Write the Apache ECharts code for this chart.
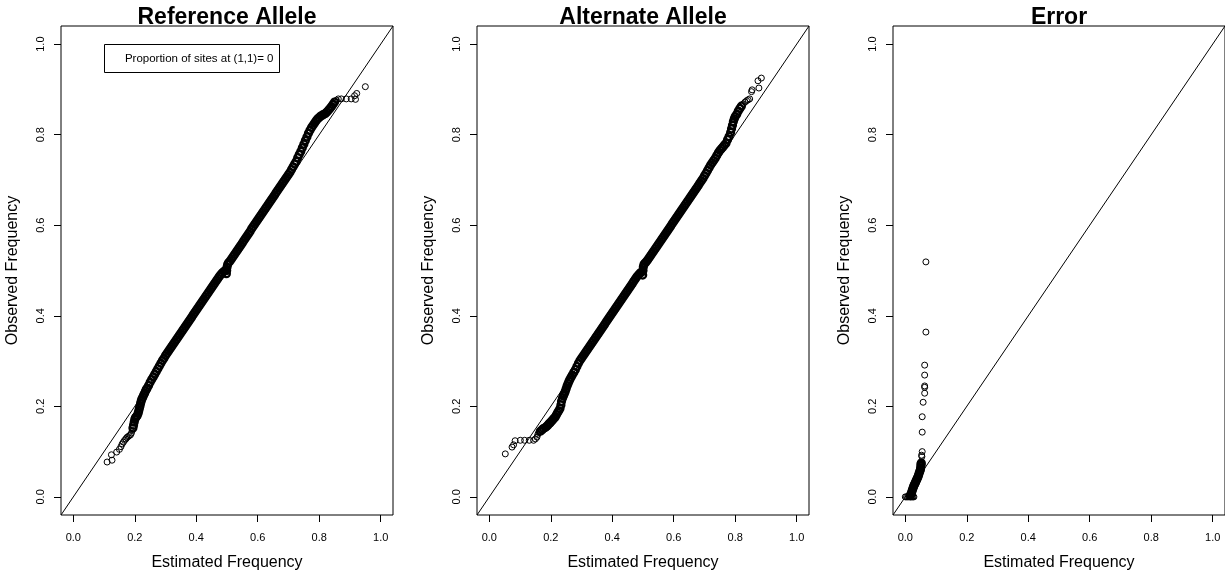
<!DOCTYPE html>
<html>
<head>
<meta charset="utf-8">
<script src="https://cdn.jsdelivr.net/npm/echarts@6/dist/echarts.min.js"></script>
<style>
html,body{margin:0;padding:0;background:#fff;}
#chart{width:1225px;height:578px;}
</style>
</head>
<body>
<div id="chart"></div>
<script>
// ---- data ----
const titles = ['Reference Allele', 'Alternate Allele', 'Error'];
const xTitle = 'Estimated Frequency';
const yTitle = 'Observed Frequency';
const legendText = 'Proportion of sites at (1,1)= 0';
const tickValues = [0, 0.2, 0.4, 0.6, 0.8, 1.0];
const axisRange = [-0.04, 1.04];
const identityLine = [[-0.04, -0.04], [1.04, 1.04]];

// Reference Allele: isolated points in the tails
const refSparse = [
[0.110,0.077],[0.126,0.081],[0.124,0.093],[0.141,0.099],[0.150,0.105],[0.155,0.111],[0.159,0.117],[0.163,0.121],
[0.167,0.125],[0.171,0.128],[0.174,0.131],[0.178,0.133],[0.182,0.135],[0.186,0.137],[0.189,0.141],[0.192,0.147],
[0.856,0.876],[0.862,0.879],[0.872,0.879],[0.888,0.879],[0.904,0.879],[0.918,0.878],[0.915,0.886],[0.922,0.891],
[0.950,0.906]
];
// Reference Allele: heavily overplotted band
const refBand = [
[0.194,0.152],[0.196,0.158],[0.198,0.165],[0.200,0.171],[0.202,0.175],[0.205,0.177],[0.208,0.180],[0.211,0.185],
[0.213,0.190],[0.215,0.196],[0.217,0.201],[0.219,0.207],[0.221,0.212],[0.223,0.216],[0.226,0.220],[0.229,0.225],
[0.232,0.229],[0.235,0.234],[0.238,0.238],
[0.240,0.240],[0.245,0.246],[0.250,0.253],[0.255,0.259],[0.260,0.265],[0.265,0.271],[0.270,0.277],[0.275,0.283],
[0.280,0.289],[0.285,0.295],[0.290,0.301],[0.295,0.306],[0.300,0.312],[0.305,0.317],[0.310,0.322],[0.315,0.327],
[0.320,0.332],[0.325,0.337],[0.330,0.342],[0.335,0.347],[0.340,0.352],[0.345,0.357],[0.350,0.362],[0.355,0.367],
[0.360,0.372],[0.365,0.377],[0.370,0.382],[0.375,0.387],[0.380,0.392],[0.385,0.397],[0.390,0.402],[0.395,0.407],
[0.400,0.412],[0.405,0.417],[0.410,0.422],[0.415,0.427],[0.420,0.432],[0.425,0.437],[0.430,0.442],[0.435,0.447],
[0.440,0.452],[0.445,0.457],[0.450,0.462],[0.455,0.467],[0.460,0.472],[0.465,0.477],[0.470,0.482],[0.475,0.487],
[0.480,0.491],[0.485,0.495],[0.490,0.498],[0.495,0.500],[0.498,0.493],[0.499,0.500],[0.500,0.507],[0.502,0.513],
[0.505,0.517],[0.510,0.521],[0.515,0.526],[0.520,0.531],[0.525,0.536],[0.530,0.541],[0.535,0.546],[0.540,0.551],
[0.545,0.556],[0.550,0.561],[0.555,0.566],[0.560,0.571],[0.565,0.576],[0.570,0.581],[0.575,0.586],[0.580,0.592],
[0.585,0.597],[0.590,0.602],[0.595,0.607],[0.600,0.612],[0.605,0.617],[0.610,0.622],[0.615,0.627],[0.620,0.632],
[0.625,0.637],[0.630,0.642],[0.635,0.647],[0.640,0.652],[0.645,0.657],[0.650,0.662],[0.655,0.667],[0.660,0.672],
[0.665,0.677],[0.670,0.682],[0.675,0.687],[0.680,0.692],[0.685,0.697],[0.690,0.702],[0.695,0.707],[0.700,0.712],
[0.705,0.717],[0.710,0.723],[0.715,0.729],[0.720,0.735],[0.725,0.741],[0.730,0.749],[0.735,0.756],[0.740,0.763],
[0.745,0.771],[0.750,0.779],[0.755,0.787],[0.760,0.795],[0.765,0.803],[0.770,0.810],[0.775,0.816],[0.780,0.821],
[0.785,0.826],[0.790,0.831],[0.795,0.835],[0.800,0.838],[0.805,0.841],[0.810,0.843],[0.815,0.845],[0.820,0.847],
[0.825,0.850],[0.830,0.854],[0.835,0.858],[0.840,0.862],[0.845,0.867],[0.850,0.872]
];

// Alternate Allele: isolated points in the tails
const altSparse = [
[0.052,0.095],[0.074,0.110],[0.079,0.115],[0.084,0.124],[0.101,0.125],[0.115,0.125],[0.130,0.125],[0.144,0.125],
[0.150,0.128],[0.155,0.132],[0.158,0.138],[0.161,0.142],
[0.826,0.868],[0.832,0.872],[0.837,0.875],[0.842,0.877],[0.847,0.879],
[0.853,0.895],[0.855,0.899],[0.877,0.903],[0.874,0.919],[0.885,0.925]
];
// Alternate Allele: heavily overplotted band
const altBand = [
[0.166,0.145],[0.171,0.148],[0.176,0.151],[0.182,0.153],
[0.187,0.156],[0.191,0.159],[0.195,0.162],[0.198,0.164],[0.202,0.167],[0.206,0.170],[0.210,0.173],[0.214,0.176],
[0.218,0.181],[0.222,0.186],[0.226,0.190],[0.230,0.195],[0.233,0.203],[0.235,0.211],[0.238,0.218],[0.241,0.223],
[0.244,0.228],[0.247,0.233],[0.250,0.239],[0.253,0.245],[0.256,0.250],[0.259,0.255],[0.262,0.259],[0.266,0.264],
[0.270,0.269],[0.275,0.275],[0.280,0.281],[0.285,0.288],
[0.290,0.295],[0.295,0.301],[0.300,0.306],[0.305,0.311],[0.310,0.316],[0.315,0.321],[0.320,0.326],[0.325,0.331],
[0.330,0.336],[0.335,0.341],[0.340,0.346],[0.345,0.351],[0.350,0.356],[0.355,0.361],[0.360,0.366],[0.365,0.371],
[0.370,0.376],[0.375,0.381],[0.380,0.386],[0.385,0.391],[0.390,0.396],[0.395,0.401],[0.400,0.406],[0.405,0.411],
[0.410,0.416],[0.415,0.421],[0.420,0.426],[0.425,0.431],[0.430,0.436],[0.435,0.441],[0.440,0.446],[0.445,0.451],
[0.450,0.456],[0.455,0.461],[0.460,0.466],[0.465,0.471],[0.470,0.476],[0.475,0.481],[0.480,0.486],[0.485,0.490],
[0.490,0.494],[0.495,0.496],[0.499,0.490],[0.500,0.500],[0.501,0.508],[0.503,0.513],[0.506,0.516],[0.510,0.519],
[0.515,0.523],[0.520,0.528],[0.525,0.533],[0.530,0.538],[0.535,0.543],[0.540,0.548],[0.545,0.553],[0.550,0.558],
[0.555,0.563],[0.560,0.568],[0.565,0.573],[0.570,0.578],[0.575,0.583],[0.580,0.588],[0.585,0.593],[0.590,0.598],
[0.595,0.603],[0.600,0.608],[0.605,0.613],[0.610,0.618],[0.615,0.623],[0.620,0.628],[0.625,0.633],[0.630,0.638],
[0.635,0.643],[0.640,0.648],[0.645,0.653],[0.650,0.658],[0.655,0.663],[0.660,0.668],[0.665,0.673],[0.670,0.678],
[0.675,0.683],[0.680,0.688],[0.685,0.693],[0.690,0.698],[0.695,0.703],[0.700,0.709],[0.705,0.715],[0.710,0.721],
[0.715,0.727],[0.720,0.733],[0.725,0.738],[0.730,0.743],[0.735,0.748],[0.740,0.754],[0.745,0.760],[0.750,0.765],
[0.755,0.769],[0.760,0.773],[0.765,0.777],[0.770,0.781],[0.775,0.789],[0.780,0.796],[0.785,0.805],[0.788,0.813],
[0.791,0.821],[0.794,0.829],[0.797,0.835],[0.800,0.840],[0.805,0.845],[0.810,0.852],[0.815,0.858],[0.820,0.863]
];

// Error: isolated points
const errSparse = [
[0.000,0.000],[0.004,0.000],[0.008,0.000],[0.012,0.000],[0.016,0.000],[0.019,0.000],[0.022,0.000],[0.025,0.000],
[0.028,0.000],
[0.054,0.089],[0.053,0.092],[0.055,0.100],[0.055,0.143],[0.055,0.177],[0.058,0.209],[0.063,0.229],[0.063,0.242],
[0.063,0.245],[0.063,0.269],[0.063,0.291],[0.067,0.364],[0.067,0.519]
];
// Error: overplotted chain near the origin
const errBand = [
[0.016,0.003],[0.019,0.007],[0.021,0.011],[0.023,0.015],[0.025,0.019],[0.027,0.023],[0.029,0.026],
[0.031,0.029],[0.033,0.032],[0.035,0.035],[0.037,0.038],[0.039,0.041],[0.041,0.044],[0.043,0.048],[0.045,0.052],
[0.047,0.056],[0.049,0.060],[0.050,0.064],[0.051,0.068],[0.051,0.072],[0.052,0.075]
];

const panelSparse = [refSparse, altSparse, errSparse];
const panelBand = [refBand, altBand, errBand];

// ---- chart ----
const FONT = '"Liberation Sans", Arial, Helvetica, sans-serif';
const gridLefts = [61, 477, 893];
const gridW = 332, gridTop = 26, gridH = 489;

const chart = echarts.init(document.getElementById('chart'), null, {renderer: 'canvas'});

const grids = [], xAxes = [], yAxes = [], series = [], titleArr = [];
for (let i = 0; i < 3; i++) {
  grids.push({left: gridLefts[i], top: gridTop, width: gridW, height: gridH,
    show: true, borderColor: '#000', borderWidth: 1, backgroundColor: 'transparent'});
  xAxes.push({
    gridIndex: i, type: 'value', min: axisRange[0], max: axisRange[1],
    name: xTitle, nameLocation: 'middle', nameGap: 40,
    nameTextStyle: {fontSize: 16, color: '#000', fontFamily: FONT},
    axisLine: {show: false, onZero: false},
    splitLine: {show: false},
    axisTick: {show: true, customValues: tickValues, length: 7, lineStyle: {color: '#000', width: 1}},
    axisLabel: {customValues: tickValues, formatter: v => v.toFixed(1), fontSize: 11, color: '#000', margin: 17, fontFamily: FONT}
  });
  yAxes.push({
    gridIndex: i, type: 'value', min: axisRange[0], max: axisRange[1],
    name: yTitle, nameLocation: 'middle', nameGap: 40, nameRotate: 90,
    nameTextStyle: {fontSize: 16, color: '#000', fontFamily: FONT},
    axisLine: {show: false, onZero: false},
    splitLine: {show: false},
    axisTick: {show: true, customValues: tickValues, length: 7, lineStyle: {color: '#000', width: 1}},
    axisLabel: {customValues: tickValues, formatter: v => v.toFixed(1), fontSize: 11, color: '#000', margin: 15, rotate: 90, fontFamily: FONT}
  });
  titleArr.push({text: titles[i], left: gridLefts[i] + gridW / 2, top: 6, padding: 0, textAlign: 'center',
    textStyle: {fontSize: 23, fontWeight: 'bold', color: '#000', fontFamily: FONT}});
  series.push({
    type: 'line', xAxisIndex: i, yAxisIndex: i, data: identityLine, symbol: 'none',
    lineStyle: {color: '#000', width: 1}, silent: true, z: 1
  });
  series.push({
    type: 'scatter', xAxisIndex: i, yAxisIndex: i, data: panelBand[i],
    symbol: 'circle', symbolSize: 7,
    itemStyle: {color: 'rgba(0,0,0,0)', borderColor: '#000', borderWidth: 2.2, opacity: 1},
    emphasis: {disabled: true}, silent: true, z: 2
  });
  series.push({
    type: 'scatter', xAxisIndex: i, yAxisIndex: i, data: panelSparse[i],
    symbol: 'circle', symbolSize: 6,
    itemStyle: {color: 'rgba(0,0,0,0)', borderColor: '#000', borderWidth: 1, opacity: 1},
    emphasis: {disabled: true}, silent: true, z: 2
  });
}

chart.setOption({
  animation: false,
  backgroundColor: '#fff',
  title: titleArr,
  grid: grids,
  xAxis: xAxes,
  yAxis: yAxes,
  series: series,
  graphic: [{
    type: 'group', left: 104, top: 44,
    children: [
      {type: 'rect', shape: {x: 0, y: 0, width: 175, height: 28}, style: {fill: '#fff', stroke: '#000', lineWidth: 1}},
      {type: 'text', x: 169, y: 14, style: {text: legendText, fontSize: 11.5, fill: '#000', font: '11.5px ' + FONT, align: 'right', verticalAlign: 'middle'}}
    ]
  }]
});
</script>
</body>
</html>
